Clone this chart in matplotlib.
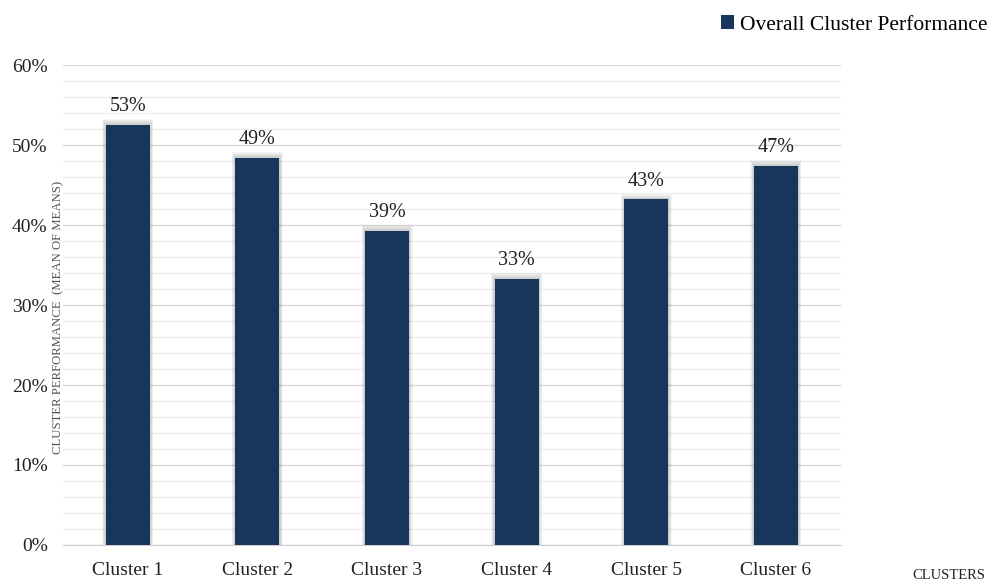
import matplotlib.pyplot as plt
import numpy as np
from matplotlib.ticker import MultipleLocator, PercentFormatter

clusters = ["Cluster 1", "Cluster 2", "Cluster 3", "Cluster 4", "Cluster 5", "Cluster 6"]
performance = [0.525, 0.484, 0.393, 0.333, 0.432, 0.474]
value_labels = ["53%", "49%", "39%", "33%", "43%", "47%"]

plt.rcParams['font.family'] = ['Liberation Serif', 'DejaVu Serif']

bar_color = '#18355c'
fig = plt.figure(figsize=(9.92, 5.81), dpi=100)
ax = fig.add_axes([0.0635, 0.062, 0.784, 0.826])

x = np.arange(len(clusters))
width = 0.34

# soft shadow behind the bars (a few stacked translucent layers)
for k in range(6, 0, -1):
    ax.bar(x, [v + 0.0012 * k for v in performance], width=width + 0.009 * k,
           color='black', alpha=0.035, zorder=2, linewidth=0)

bars = ax.bar(x, performance, width=width, color=bar_color, zorder=3,
              label="Overall Cluster Performance")

for xi, v, lab in zip(x, performance, value_labels):
    ax.text(xi, v + 0.011, lab, ha='center', va='bottom', fontsize=14.5, color='#222222')

ax.set_xlim(-0.5, len(clusters) - 0.5)
ax.set_ylim(0, 0.6)
ax.yaxis.set_major_locator(MultipleLocator(0.1))
ax.yaxis.set_minor_locator(MultipleLocator(0.02))
ax.yaxis.set_major_formatter(PercentFormatter(1.0, decimals=0))
ax.set_xticks(x)
ax.set_xticklabels(clusters)

ax.grid(axis='y', which='major', color='#d9d9d9', linewidth=1.0, zorder=0)
ax.grid(axis='y', which='minor', color='#efefef', linewidth=1.0, zorder=0)
ax.set_axisbelow(True)

for s in ['top', 'right', 'left']:
    ax.spines[s].set_visible(False)
ax.spines['bottom'].set_color('#d0d0d0')

ax.tick_params(axis='both', which='both', length=0, labelsize=14, colors='#222222')
ax.tick_params(axis='y', pad=11)
ax.tick_params(axis='x', pad=12)

fig.text(0.0585, 0.453, "CLUSTER PERFORMANCE  (MEAN OF MEANS)", rotation=90,
         ha='center', va='center', fontsize=9.2, color='#555555')
fig.text(0.993, 0.010, "CLUSTERS", ha='right', va='center', fontsize=10.5, color='#222222')

leg = fig.legend(handles=[bars], loc='center right', bbox_to_anchor=(1.006, 0.957),
                 frameon=False, fontsize=15.5, handlelength=0.6, handleheight=0.6,
                 handletextpad=0.25, borderaxespad=0.1)

fig.savefig('out.png', dpi=100)
